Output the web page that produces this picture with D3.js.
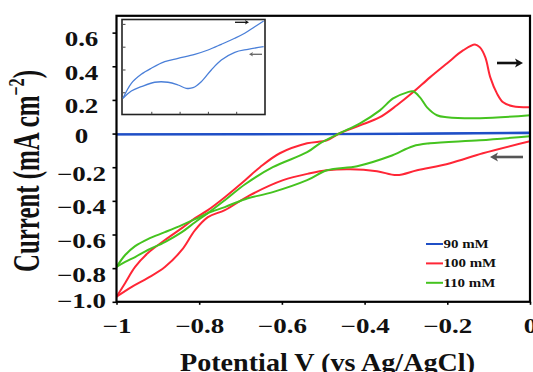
<!DOCTYPE html>
<meta charset="utf-8">
<script src="https://cdn.jsdelivr.net/npm/d3@7"></script>
<style>
body { margin: 0; background: #fff; }
text { font-family: "Liberation Serif", "Times New Roman", serif; font-weight: bold; fill: #111; }
.curve { fill: none; stroke-width: 2px; stroke-linejoin: round; stroke-linecap: round; }
.icurve { fill: none; stroke: #4a7fd8; stroke-width: 1.3px; }
</style>
<body>
<script>

// axis ticks
var xTicks = [-1, -0.8, -0.6, -0.4, -0.2, 0];
var xTickLabels = ["\u22121", "\u22120.8", "\u22120.6", "\u22120.4", "\u22120.2", "0"];
var yTicks = [0.6, 0.4, 0.2, 0, -0.2, -0.4, -0.6, -0.8, -1.0];
var yTickLabels = ["0.6", "0.4", "0.2", "0", "\u22120.2", "\u22120.4", "\u22120.6", "\u22120.8", "\u22121.0"];

// 90 mM (flat)
var blueFwd = [[-1, -0.004], [-0.5, -0.002], [0, 0.006]];
var blueRev = [[0, 0.002], [-0.5, -0.004], [-1, -0.006]];

// 100 mM
var redFwd = [[-1.0, -0.97], [-0.979, -0.888], [-0.955, -0.793], [-0.924, -0.71], [-0.883, -0.633],
  [-0.842, -0.562], [-0.81, -0.503], [-0.779, -0.455], [-0.738, -0.378], [-0.689, -0.277],
  [-0.653, -0.2], [-0.605, -0.117], [-0.539, -0.058], [-0.491, -0.04], [-0.46, 0.002],
  [-0.411, 0.049], [-0.363, 0.097], [-0.322, 0.168], [-0.283, 0.245], [-0.242, 0.334],
  [-0.201, 0.417], [-0.162, 0.494], [-0.133, 0.53], [-0.121, 0.512], [-0.108, 0.453],
  [-0.096, 0.334], [-0.08, 0.239], [-0.065, 0.186], [-0.041, 0.162], [0, 0.156]];
var redRev = [[0, -0.046], [-0.114, -0.117], [-0.193, -0.176], [-0.273, -0.218], [-0.322, -0.247],
  [-0.37, -0.224], [-0.435, -0.212], [-0.491, -0.218], [-0.532, -0.236], [-0.597, -0.277],
  [-0.677, -0.366], [-0.738, -0.455], [-0.779, -0.497], [-0.81, -0.574], [-0.842, -0.692],
  [-0.883, -0.793], [-0.924, -0.858], [-0.963, -0.911], [-1.0, -0.97]];

// 110 mM
var greenFwd = [[-1.0, -0.793], [-0.979, -0.763], [-0.955, -0.734], [-0.924, -0.692], [-0.883, -0.645],
  [-0.842, -0.586], [-0.81, -0.527], [-0.779, -0.473], [-0.738, -0.396], [-0.689, -0.301],
  [-0.622, -0.2], [-0.539, -0.111], [-0.508, -0.058], [-0.46, 0.002], [-0.411, 0.061],
  [-0.363, 0.138], [-0.331, 0.209], [-0.297, 0.245], [-0.283, 0.251], [-0.266, 0.215],
  [-0.249, 0.156], [-0.225, 0.109], [-0.201, 0.097], [-0.121, 0.091], [0, 0.109]];
var greenRev = [[0, -0.016], [-0.121, -0.04], [-0.242, -0.058], [-0.283, -0.075], [-0.339, -0.135],
  [-0.418, -0.194], [-0.491, -0.218], [-0.539, -0.277], [-0.622, -0.348], [-0.689, -0.39],
  [-0.738, -0.437], [-0.779, -0.473], [-0.81, -0.509], [-0.842, -0.544], [-0.883, -0.586],
  [-0.924, -0.627], [-0.955, -0.669], [-0.979, -0.722], [-1.0, -0.793]];

// inset (90 mM enlarged)
var insetFwd = [[-1.0, -0.53], [-0.941, 0.79], [-0.871, 1.58], [-0.8, 2.11], [-0.705, 2.68],
  [-0.611, 2.98], [-0.493, 3.33], [-0.399, 3.71], [-0.305, 4.21], [-0.21, 4.74],
  [-0.14, 5.18], [-0.069, 5.75], [-0.006, 6.25]];
var insetRev = [[-0.006, 4.0], [-0.117, 3.77], [-0.21, 3.51], [-0.305, 2.83], [-0.376, 1.96],
  [-0.447, 0.93], [-0.505, 0.4], [-0.553, 0.35], [-0.611, 0.64], [-0.682, 0.88],
  [-0.776, 0.88], [-0.871, 0.49], [-0.941, 0.11], [-1.0, -0.53]];
var insetXTicks = [-0.8, -0.6, -0.4, -0.2];
var insetYTicks = [0, 2, 4, 6];

var legendNames = ["90 mM", "100 mM", "110 mM"];
var colors = ["#1f4fc6", "#ff2636", "#45c31f"];

var width = 533, height = 372;
var stretch = 1.35;

var svg = d3.select("body").append("svg")
    .attr("width", width)
    .attr("height", height);

svg.append("rect").attr("width", width).attr("height", height).attr("fill", "#fff");

var x = d3.scaleLinear().domain([-1, 0]).range([116.5, 530]);
var y = d3.scaleLinear().domain([-1, 0.7]).range([301.8, 15.8]);

svg.append("clipPath").attr("id", "plot")
  .append("rect").attr("x", 116.5).attr("y", 15.8).attr("width", 413.5).attr("height", 286);

var line = d3.line()
    .x(function(d) { return x(d[0]); })
    .y(function(d) { return y(d[1]); })
    .curve(d3.curveCatmullRom.alpha(0.5));

var curves = svg.append("g").attr("clip-path", "url(#plot)");
var series = [[blueFwd, blueRev], [redFwd, redRev], [greenFwd, greenRev]];
series.forEach(function(s, i) {
  s.forEach(function(branch) {
    curves.append("path")
      .datum(branch)
      .attr("class", "curve")
      .attr("stroke", colors[i])
      .attr("stroke-width", i == 0 ? 2.6 : 2)
      .attr("d", line);
  });
});

// axes
var yAxis = svg.append("g")
    .attr("transform", "translate(116.5,0)")
    .call(d3.axisLeft(y).tickValues(yTicks).tickSize(4).tickFormat(function(d, i) { return yTickLabels[i]; }));
yAxis.selectAll("text")
    .attr("x", null).attr("dy", null)
    .attr("text-anchor", "middle")
    .style("font-size", "20px")
    .attr("transform", function(d) {
      var off = d == -1 ? 6 : (d == 0 ? 9 : 13);
      return "translate(-35," + off + ") scale(" + stretch + ",1)";
    });

var xAxis = svg.append("g")
    .attr("transform", "translate(0,301.8)")
    .call(d3.axisBottom(x).tickValues(xTicks).tickSize(3).tickFormat(function(d, i) { return xTickLabels[i]; }));
xAxis.selectAll("text")
    .attr("y", null).attr("dy", null)
    .style("font-size", "20px")
    .attr("transform", "translate(0,31.5) scale(" + stretch + ",1)");

svg.selectAll(".tick line").attr("stroke", "#000").attr("stroke-width", 1.6);
svg.selectAll(".domain").remove();

// frame
svg.append("rect")
    .attr("x", 116.5).attr("y", 15.8)
    .attr("width", 413.5).attr("height", 286)
    .attr("fill", "none").attr("stroke", "#000").attr("stroke-width", 2.2);

// axis titles
svg.append("text")
    .attr("x", 327.5).attr("y", 370.5)
    .attr("text-anchor", "middle")
    .style("font-size", "25.5px")
    .attr("textLength", 295)
    .attr("lengthAdjust", "spacingAndGlyphs")
    .text("Potential V (vs Ag/AgCl)");

var yt = svg.append("text")
    .attr("transform", "translate(39,171) scale(1.85,1) rotate(-90)")
    .attr("text-anchor", "middle")
    .style("font-size", "20px")
    .attr("textLength", 202)
    .attr("lengthAdjust", "spacingAndGlyphs");
yt.append("tspan").text("Current (mA cm");
yt.append("tspan").attr("dy", -8).style("font-size", "13px").text("\u22122");
yt.append("tspan").attr("dy", 8).text(")");

// scan direction arrows
function arrow(g, x1, x2, yy, col, w, head) {
  var dir = x2 > x1 ? 1 : -1;
  g.append("line").attr("x1", x1).attr("x2", x2 - dir * head * 0.6).attr("y1", yy).attr("y2", yy)
    .attr("stroke", col).attr("stroke-width", w);
  g.append("path")
    .attr("d", "M" + x2 + "," + yy + "L" + (x2 - dir * head) + "," + (yy - head * 0.55) +
      "L" + (x2 - dir * head * 0.75) + "," + yy + "L" + (x2 - dir * head) + "," + (yy + head * 0.55) + "Z")
    .attr("fill", col);
}
arrow(svg, 497, 523, 63, "#111", 2.6, 8);
arrow(svg, 523, 490, 157, "#555", 2.6, 8);

// legend
var leg = svg.append("g");
legendNames.forEach(function(n, i) {
  var ly = 244 + i * 19.4;
  leg.append("line").attr("x1", 426).attr("x2", 443).attr("y1", ly).attr("y2", ly)
    .attr("stroke", colors[i]).attr("stroke-width", 2);
  leg.append("text")
    .attr("transform", "translate(443.5," + (ly + 3.8) + ") scale(1.3,1)")
    .style("font-size", "11.5px")
    .text(n);
});

// inset
var xi = d3.scaleLinear().domain([-1, 0]).range([123, 264.5]);
var yi = d3.scaleLinear().domain([-1.93, 6.34]).range([114.3, 20]);
var inset = svg.append("g");
inset.append("rect")
    .attr("x", 122).attr("y", 19.5).attr("width", 143).attr("height", 95)
    .attr("fill", "#fff").attr("stroke", "#222").attr("stroke-width", 1.6);
inset.append("g").attr("transform", "translate(123,0)")
    .call(d3.axisLeft(yi).tickValues(insetYTicks).tickSize(-2.5).tickFormat(""));
inset.append("g").attr("transform", "translate(0,114.3)")
    .call(d3.axisBottom(xi).tickValues(insetXTicks).tickSize(-2.5).tickFormat(""));
inset.selectAll(".domain").remove();
inset.selectAll(".tick line").attr("stroke", "#444").attr("stroke-width", 1);

var iline = d3.line()
    .x(function(d) { return xi(d[0]); })
    .y(function(d) { return yi(d[1]); })
    .curve(d3.curveCatmullRom.alpha(0.5));
[insetFwd, insetRev].forEach(function(b) {
  inset.append("path").datum(b).attr("class", "icurve").attr("d", iline);
});
arrow(inset, 235, 249, 22.3, "#111", 1.3, 4);
arrow(inset, 262, 249, 54.3, "#666", 1.3, 4);

</script>
</body>
